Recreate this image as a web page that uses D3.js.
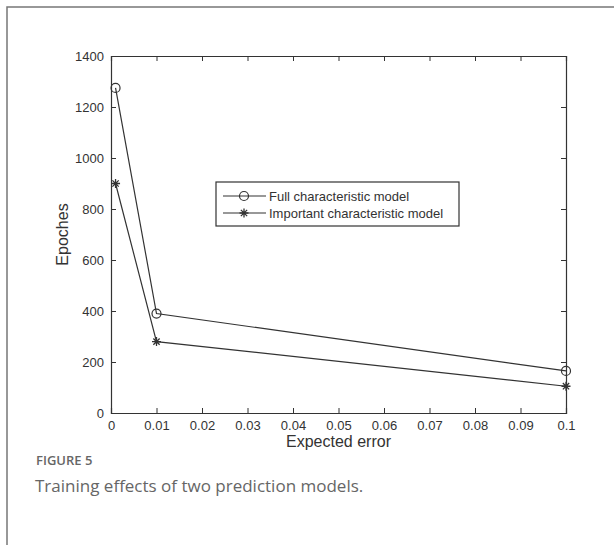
<!DOCTYPE html>
<html>
<head>
<meta charset="utf-8">
<script src="https://cdn.jsdelivr.net/npm/d3@7"></script>
<style>
  body { margin: 0; background: #fff; }
  svg { display: block; }
</style>
</head>
<body>
<div id="chart"></div>
<script>
// data
const expectedError = [0.001, 0.01, 0.1];
const fullModel = [1275, 390, 165];
const importantModel = [900, 280, 105];
const xTicks = [0, 0.01, 0.02, 0.03, 0.04, 0.05, 0.06, 0.07, 0.08, 0.09, 0.1];
const yTicks = [0, 200, 400, 600, 800, 1000, 1200, 1400];
const seriesNames = ['Full characteristic model', 'Important characteristic model'];

const width = 614, height = 545;
const plot = { left: 111, right: 566, top: 56, bottom: 413 };

const svg = d3.select('#chart').append('svg')
    .attr('width', width)
    .attr('height', height);

// outer figure frame (only top and left visible)
svg.append('rect')
    .attr('x', 7).attr('y', 7)
    .attr('width', 640).attr('height', 600)
    .attr('fill', 'none')
    .attr('stroke', '#777')
    .attr('stroke-width', 1.5);

const x = d3.scaleLinear().domain([0, 0.1]).range([plot.left, plot.right]);
const y = d3.scaleLinear().domain([0, 1400]).range([plot.bottom, plot.top]);

const tickFont = 'Liberation Sans, Arial, sans-serif';
const ink = '#333';

// axes, matlab style: ticks inward on all sides
const xAxis = d3.axisBottom(x).tickValues(xTicks).tickSize(-5).tickPadding(8)
    .tickFormat(d => d === 0 ? '0' : String(+d.toFixed(2)));
const yAxis = d3.axisLeft(y).tickValues(yTicks).tickSize(-5).tickPadding(7)
    .tickFormat(d => String(d));

svg.append('g').attr('transform', `translate(0,${plot.bottom})`).call(xAxis);
svg.append('g').attr('transform', `translate(${plot.left},0)`).call(yAxis);
svg.append('g').attr('transform', `translate(0,${plot.top})`)
    .call(d3.axisTop(x).tickValues(xTicks).tickSize(-5).tickFormat(''));
svg.append('g').attr('transform', `translate(${plot.right},0)`)
    .call(d3.axisRight(y).tickValues(yTicks).tickSize(-5).tickFormat(''));

svg.selectAll('.domain').attr('stroke', ink).attr('stroke-width', 1.2);
svg.selectAll('.tick line').attr('stroke', ink);
svg.selectAll('.tick text')
    .attr('font-family', tickFont)
    .attr('font-size', 13)
    .attr('fill', ink);

// axis titles
svg.append('text')
    .attr('x', (plot.left + plot.right) / 2)
    .attr('y', 447)
    .attr('text-anchor', 'middle')
    .attr('font-family', tickFont)
    .attr('font-size', 16)
    .attr('fill', ink)
    .text('Expected error');

svg.append('text')
    .attr('transform', `translate(68,${(plot.top + plot.bottom) / 2}) rotate(-90)`)
    .attr('text-anchor', 'middle')
    .attr('font-family', tickFont)
    .attr('font-size', 16)
    .attr('fill', ink)
    .text('Epoches');

const line = d3.line()
    .x((d, i) => x(expectedError[i]))
    .y(d => y(d));

function drawCircle(g, cx, cy) {
    g.append('circle')
        .attr('cx', cx).attr('cy', cy).attr('r', 4.5)
        .attr('fill', 'none')
        .attr('stroke', ink)
        .attr('stroke-width', 1.2);
}

function drawStar(g, cx, cy) {
    const s = 4.5;
    const path = d3.path();
    path.moveTo(cx - s, cy); path.lineTo(cx + s, cy);
    path.moveTo(cx, cy - s); path.lineTo(cx, cy + s);
    path.moveTo(cx - s * 0.7, cy - s * 0.7); path.lineTo(cx + s * 0.7, cy + s * 0.7);
    path.moveTo(cx - s * 0.7, cy + s * 0.7); path.lineTo(cx + s * 0.7, cy - s * 0.7);
    g.append('path').attr('d', path.toString())
        .attr('stroke', ink).attr('stroke-width', 1.3);
}

const series = [
    { values: fullModel, marker: drawCircle },
    { values: importantModel, marker: drawStar }
];

series.forEach(s => {
    svg.append('path')
        .attr('d', line(s.values))
        .attr('fill', 'none')
        .attr('stroke', ink)
        .attr('stroke-width', 1.2);
    const g = svg.append('g');
    s.values.forEach((v, i) => s.marker(g, x(expectedError[i]), y(v)));
});

// legend
const legend = svg.append('g');
legend.append('rect')
    .attr('x', 216).attr('y', 182)
    .attr('width', 243).attr('height', 44)
    .attr('fill', '#fff')
    .attr('stroke', ink)
    .attr('stroke-width', 1.2);

seriesNames.forEach((name, i) => {
    const ly = 196 + i * 17;
    legend.append('line')
        .attr('x1', 223).attr('x2', 266)
        .attr('y1', ly).attr('y2', ly)
        .attr('stroke', ink).attr('stroke-width', 1.2);
    series[i].marker(legend, 244, ly);
    legend.append('text')
        .attr('x', 269).attr('y', ly + 4.5)
        .attr('font-family', tickFont)
        .attr('font-size', 13)
        .attr('fill', ink)
        .text(name);
});

// caption
svg.append('text')
    .attr('x', 36).attr('y', 465)
    .attr('font-family', 'Open Sans, sans-serif')
    .attr('font-size', 13)
    .attr('font-weight', 600)
    .attr('fill', '#666')
    .text('FIGURE 5');

svg.append('text')
    .attr('x', 35).attr('y', 492)
    .attr('font-family', 'Open Sans, sans-serif')
    .attr('font-size', 17)
    .attr('fill', '#666')
    .text('Training effects of two prediction models.');
</script>
</body>
</html>
